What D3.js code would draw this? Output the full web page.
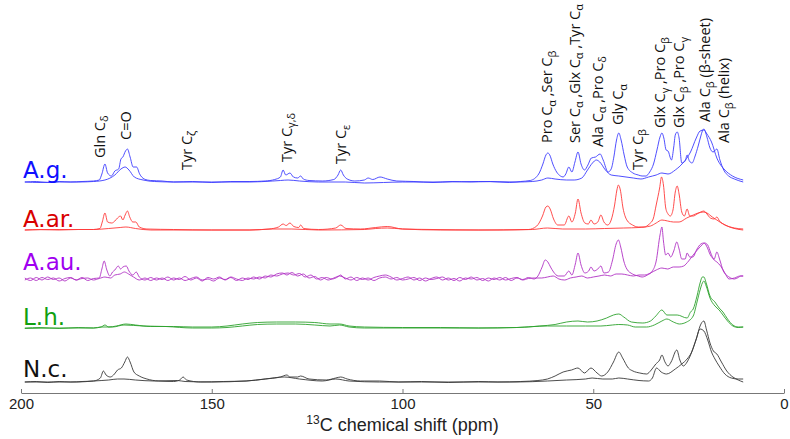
<!DOCTYPE html>
<html>
<head>
<meta charset="utf-8">
<script src="https://cdn.jsdelivr.net/npm/d3@7"></script>
<style>
  body { margin: 0; background: #fff; }
  svg { display: block; }
</style>
</head>
<body>
<svg id="chart" width="790" height="439"></svg>
<script>
// ---- data: [ppm, intensity] ----
var agA = [[199,0],[196,0.5],[193,-0.5],[190,0.5],[187,0],[184,0.5],[181,1],[179.5,2],[178.8,8],[178,18],[177.3,9],[176.3,6],[175.4,11],[174.4,13],[173.8,23],[173.3,25],[172.6,31],[172.1,33],[171.4,25],[170.6,15],[169.7,15],[168.9,8],[167.7,3],[166,1.5],[163,1],[160,0],[155,0.5],[150,-0.5],[145,0.5],[140,0.5],[136,1],[133.5,2.5],[132,5],[131.3,12],[130.6,7],[129.5,9],[128.6,5],[127.5,4],[126.7,6],[126,3],[124.5,1.5],[121,1],[118,2.5],[116.9,7],[116.2,12],[115.5,7],[114.5,3],[112.5,1],[110,2],[109,4],[107.8,2.5],[105.9,5],[104,3],[101.5,1],[97,0.5],[92,-0.5],[87,0.5],[82,0],[77,0.5],[72,-0.5],[69,0.5],[66.5,1.5],[64.3,8],[63.2,18],[62.4,27],[61.9,29],[61.4,27],[60.6,18],[59.6,10],[58.6,6],[57.9,5],[57.2,8],[56.4,15],[55.6,10],[54.8,20],[54,30],[53.2,18],[52.3,12],[51.4,17],[50.5,24],[49.4,25],[48.2,28],[47.4,22],[46.1,10],[45.3,13],[44.6,25],[43.9,42],[43.3,49],[42.7,42],[41.9,27],[41.1,15],[39.6,9],[38.2,7],[37.2,6],[36.2,6],[35.2,10],[34.2,18],[33.3,32],[32.5,45],[32,49],[31.5,44],[30.9,32],[30.4,31],[29.5,22],[28.9,35],[28.5,47],[28,50],[27.5,44],[26.8,19],[25.9,21],[25.4,27],[24.8,21],[24.1,19],[23.3,26],[22.5,36],[21.8,46],[21.4,51],[21,53],[20.2,45],[19.4,34],[18.6,30],[17.6,33],[16.8,22],[15.8,12],[14.5,6],[13,3],[10.7,0]];
var agB = [[199,0],[195,-0.5],[190,0],[185,0],[181,0.5],[178,2],[175.4,7],[173.8,13],[172.7,15],[171.7,12],[170.3,5],[168,2],[165,0.5],[160,0],[150,0],[140,0],[134,1],[132,1.5],[130,2],[127,1],[122,0],[115,0],[110,-1],[105,-0.5],[100,0],[90,0],[80,0.5],[70,0],[66,0.5],[63.5,2],[61.9,4],[60,3],[57,2],[55,2],[53,4],[51.5,12],[50.2,19],[49.2,22],[48.3,20],[46.8,12],[45.3,7],[43.3,6],[39.5,4],[37.5,3],[35.5,5],[33.5,7],[32,9],[30.4,8],[28.5,12],[26.5,19],[24.5,30],[23,44],[22,51],[21,52],[20.2,48],[19,40],[17.6,24],[15.5,12],[13.5,6],[10.7,2]];

var arA = [[199,0],[195,0.5],[190,0],[185,0.5],[181,0.5],[179.3,1.5],[178.7,8],[178,17],[177.3,8],[176.2,7],[175.4,9],[174.7,12],[173.9,14],[173.3,10],[172.7,15],[172.1,19],[171.5,13],[170.7,8],[169.9,8],[169,3],[167,1],[160,0.5],[150,0],[140,0],[135,1],[132.5,3],[131.3,6],[130.5,4.5],[129.5,7],[128.5,3.5],[127.2,2.5],[126.7,5],[125.9,1.5],[122,0.5],[117.5,2],[116.2,5],[114.8,1.5],[111,1],[107,2.5],[104,3.5],[100,1],[92,0.5],[80,0],[67,0.5],[64.8,4],[63.3,14],[62.4,23],[61.9,24],[61.3,21],[60.4,11],[59.3,5],[57.6,5],[56.4,14],[55.6,8],[54.7,17],[54,31],[53.2,17],[52.2,7],[51.3,6],[50.6,10],[49.8,6],[48.8,8],[48,15],[47.2,8],[46.2,5],[45.3,10],[44.4,25],[43.8,40],[43.4,45],[42.9,40],[42.2,22],[41.2,10],[39.7,5],[38.2,3],[36.7,3],[35.3,6],[34.3,11],[33.5,25],[32.6,42],[32.1,53],[31.6,45],[31,22],[30.4,16],[29.8,14],[29.1,20],[28.5,38],[28,44],[27.5,36],[26.8,18],[26.1,14],[25.4,21],[24.7,14],[23.8,14],[22.8,16],[21.8,18],[21,19],[20.2,16],[19.3,12],[18.3,11],[17.6,13],[16.9,9],[15.4,5],[13.5,2],[10.7,0]];
var arB = [[199,0],[190,0.5],[181,0.5],[177,1.5],[174,2.5],[172.5,3],[170,1.5],[166,0],[150,0],[140,0],[134,1],[129,1],[122,0],[110,0.5],[107,1.5],[104,2],[100,1],[90,0],[75,0],[66,0.5],[62,2],[58,1],[52,1],[47,1.5],[42,2],[38,2.5],[35,4],[33.5,7],[32,10],[30.5,9],[29,8],[27.5,8],[25.5,12],[23.8,15],[22.5,17],[21.2,18],[20.2,17],[18.8,13],[17.6,10],[15.5,5],[13,2],[10.7,1]];

var auA = [[199,1],[197.5,-1.5],[196,1.5],[194.5,-1],[193,2],[191.5,-0.5],[190,1],[188.5,-2],[187,1],[185.5,-1],[184,1.5],[182.5,-1.5],[181,0.5],[179.5,1],[178.8,10],[178.2,18],[177.5,9],[176.7,3],[176,7],[175.4,9],[174.5,13],[173.9,10],[173.3,12],[172.4,13],[171.7,8],[170.7,4],[169.8,7],[169,2],[167.5,-1],[166,1.5],[164.5,-1],[163,1],[161.5,-1.5],[160,1],[158.5,-0.5],[157,2.5],[155.5,-1],[154,1],[152.5,-2],[151,1.5],[149.5,0],[148,2],[146.5,-1],[145,1.5],[143.5,-1.5],[142,1],[140.5,-0.5],[139,2],[137.5,0],[136,3],[134.5,2],[133,5],[131.5,6],[130.3,4],[129,6.5],[127.5,3],[126,5],[124.5,1],[123,2.5],[121.5,-1],[120,1.5],[118.5,0],[117,2],[116.2,4],[115,0],[113.5,2],[112,-1.5],[110.5,1],[109,-1],[107.5,1.5],[106,3],[104.5,4],[103,2],[101.5,-1],[100,0.5],[98.5,2],[97,-1],[95.5,1],[94,-2],[92.5,0.5],[91,2],[89.5,-1],[88,1],[86.5,-1.5],[85,1.5],[83.5,-0.5],[82,2],[80.5,-1],[79,0.5],[77.5,-2],[76,1],[74.5,-1],[73,1.5],[71.5,-1.5],[70,1],[68.5,-0.5],[67,1.5],[65.5,0],[64.5,3],[63.4,12],[62.6,19],[61.9,17],[61.2,12],[60.4,7],[59.2,3],[57.6,3],[56.4,8],[55.6,4],[54.7,15],[54,26],[53.2,14],[52.2,6],[51.2,8],[50.6,12],[49.8,8],[48.8,10],[48,13],[47.2,6],[46,7],[45,18],[44,35],[43.4,39],[42.8,32],[42,18],[41.2,10],[39.7,5],[38.2,3],[37.2,2],[35.8,4],[34.5,8],[33.5,18],[32.5,44],[32,52],[31.6,38],[31,24],[30.4,26],[29.7,22],[28.9,28],[28.1,37],[27.5,30],[26.8,20],[25.9,20],[25.4,26],[24.7,22],[23.9,22],[22.8,30],[21.8,35],[21,36],[20.3,33],[19.3,24],[18.3,20],[17.6,27],[16.9,20],[15.9,8],[14.4,2],[13,0],[12,1.5],[11.3,3],[10.7,3]];
var auB = [[199,-1],[197.5,1],[196,-1.5],[194.5,1.5],[193,-0.5],[191.5,1],[190,-2],[188.5,0.5],[187,1.5],[185.5,-1],[184,0.5],[182.5,1],[181,-1],[179.5,0.5],[178,2],[176.5,1],[175.4,4],[174,5],[172.9,7],[171.8,5],[170.5,2],[169,-1],[167.5,1],[166,-1.5],[164.5,1],[163,-0.5],[161.5,2],[160,-1],[158.5,1],[157,-1.5],[155.5,0.5],[154,2],[152.5,-1],[151,0],[149.5,-2],[148,1],[146.5,-0.5],[145,2],[143.5,0],[142,-1.5],[140.5,1],[139,0],[137.5,2],[136,1],[134.5,4],[133,3],[131.5,5],[130,6],[128.5,4],[127,5.5],[125.5,2],[124,4],[122.5,0],[121,1.5],[119.5,-1],[118,1],[116.5,3],[115,1],[113.5,-1],[112,1.5],[110.5,-0.5],[109,1],[107.5,-1.5],[106,1],[104.5,2],[103,0],[101.5,1.5],[100,-1],[98.5,0],[97,1.5],[95.5,-1.5],[94,1],[92.5,-0.5],[91,0.5],[89.5,2],[88,-1],[86.5,0.5],[85,-2],[83.5,1],[82,0],[80.5,1.5],[79,-1.5],[77.5,1],[76,-0.5],[74.5,1.5],[73,-1],[71.5,0.5],[70,1.5],[68.5,-1],[67,0.5],[65.5,1],[63.5,1],[62,2],[60.5,3],[59,0],[57.5,-1],[56,1],[54.5,2],[53,3],[51.5,1],[50,2],[48.5,3],[47,4],[45.5,3],[44,5],[42.5,5],[41,4],[39.5,3],[38,4],[36.5,4],[35,6],[33.5,9],[32,11],[30.5,10],[29,12],[27.5,12],[26.3,13],[25,18],[23.8,24],[22.5,30],[21.5,34],[20.8,36],[20,34],[19.2,26],[18.5,20],[17.6,17],[16.6,13],[15.5,6],[14.4,0],[13,1],[11.5,3],[10.7,3]];

var lhA = [[199,0],[195,0.5],[190,-0.5],[185,0.5],[181,0],[179,1],[178,3],[177,1],[175,2],[172.5,4],[170,3],[166,1.5],[160,1.5],[155,1],[150,1],[146,2],[142,4],[138,5.5],[133,6],[128,6],[123,5.5],[119,4],[116.5,4],[114,2],[110,1],[100,0.5],[90,0.5],[80,0],[70,0.5],[64,2],[60,3.5],[57,6],[54,7],[51.5,6],[49,7],[46.5,10],[44.7,13],[43.3,14],[42,11],[40,6],[37,5],[35,7],[33.6,12],[32,18],[30.7,13],[28,13],[25.4,10],[24.5,16],[23.8,19],[22.8,32],[22,45],[21.4,51],[21,51],[20.4,45],[19.4,32],[18.1,26],[17,20],[16,16],[14.8,9],[13.4,3],[12,1],[10.7,1]];
var lhB = [[199,-0.5],[190,0],[181,0],[179,1],[176,1],[173,3],[168,2],[162,1.5],[155,0],[150,0],[146,0.5],[142,2],[138,3.5],[133,4],[128,4],[123,3],[119,2],[116.5,3],[114,1],[110,0],[100,0],[80,0],[70,0.5],[62,2],[57,2],[52,2],[48,2],[45,3],[43.3,3.5],[41,3],[39,1],[36,1],[34,3],[32,7],[30.7,9],[29,6],[27.4,4],[25.5,6],[23.8,12],[22.8,26],[22,38],[21.4,45],[21,47],[20.4,42],[19.4,30],[18.1,22],[17,18],[16,13],[14.8,7],[13.4,2],[12,0.5],[10.7,1]];

var ncA = [[199,0],[196,0.5],[193,-0.5],[190,0.5],[187,0],[184,0.5],[181,1],[179.2,4],[178.4,11],[177.7,7],[176.6,5],[175.5,8],[174.7,12],[173.7,14],[172.8,20],[172.1,25],[171.4,20],[170.4,10],[169,6],[167,3],[164,1],[160,0.5],[158.4,2],[157.5,5],[156.6,2],[153,0],[147,0.5],[141,1],[136,3],[132,5],[130.3,7],[129.5,5],[127.5,5],[126.7,6],[124.5,3],[120,2],[117.5,4],[116.2,5],[114.5,3],[111,1],[106,1],[101,0],[95,0.5],[88,-0.5],[80,0.5],[75,0],[69,0.5],[64.5,1.5],[62,3],[60,6],[57.9,10],[55.7,12],[54,14],[52.3,9],[50.6,14],[49,9],[47.8,6],[46.2,10],[44.7,20],[43.3,30],[42.3,24],[40.8,14],[39.6,11],[37.8,9],[36,8],[34.8,12],[33.6,18],[32.6,22],[32,27],[31.2,20],[30.4,16],[29.6,20],[28.1,32],[27.3,22],[26.4,16],[25.4,20],[24.6,26],[23.7,35],[22.9,44],[22,56],[21,61],[20.3,52],[19.4,39],[18.5,31],[17.6,28],[16.4,20],[15,11],[13.4,5],[12,2],[10.7,0]];
var ncB = [[199,0],[192,0],[185,0],[181,1],[177,2],[174.7,3],[173,3],[170,2],[165,1],[159,1.5],[157,0.5],[150,0],[141,1],[136,3],[131,5],[127,3],[121,1],[117.5,3],[114,1],[106,0],[95,0],[80,0],[70,0],[62,1],[57,2],[52,3],[50.3,4],[47.5,3],[45,3],[43.3,4],[41,3],[38,1.5],[35.5,1],[34.5,4],[33.4,14],[32.2,10],[30.8,8],[28.5,13],[26.8,18],[25.4,23],[24.2,30],[23.1,42],[22,53],[21,51],[20,42],[19,30],[18.1,23],[17,16],[15.5,8],[13.8,4],[12,3],[10.7,3]];

var samples = ["A.g.", "A.ar.", "A.au.", "L.h.", "N.c."];
var spectra = [[agA, agB], [arA, arB], [auA, auB], [lhA, lhB], [ncA, ncB]];
var offsets = [200, 152, 103, 54, 0];
var nameLevels = [204, 155, 112, 57, 5];

var peakLabels = ["Gln C_{δ}", "C=O", "Tyr C_{ζ}", "Tyr C_{γ,δ}", "Tyr C_{ε}",
    "Pro C_{α} ,Ser C_{β}", "Ser C_{α} ,Glx C_{α} ,Tyr C_{α}", "Ala C_{α} ,Pro C_{δ}",
    "Gly C_{α}", "Tyr C_{β}", "Glx C_{γ} ,Pro C_{β}", "Glx C_{β} ,Pro C_{γ}",
    "Ala C_{β} (β-sheet)", "Ala C_{β} (helix)"];
var peakPpm = [179.3, 172.5, 156.5, 130.3, 116.1, 62.1, 54.8, 48.8, 43.5, 38.3, 32.5, 27.5, 20.7, 15.7];
var peakLevels = [224, 242, 212, 220, 218, 239, 239, 235, 257, 212, 254, 254, 260, 239];

var xTicks = [200, 150, 100, 50, 0];

// ---- styles ----
var lineColors = ["#3c3cff", "#ff3a3a", "#b032c4", "#2ea22e", "#3a3a3a"];
var nameColors = ["#1010ff", "#d80000", "#a000f0", "#10a010", "#111111"];

var svg = d3.select("#chart");

var x = d3.scaleLinear().domain([200, 0]).range([21, 784]);
var y = d3.scaleLinear().domain([0, 380]).range([382, 2]);

// spectra
spectra.forEach(function(pair, i) {
    var line = d3.line()
        .x(d => x(d[0]))
        .y(d => y(d[1] + offsets[i]))
        .curve(d3.curveMonotoneX);

    svg.append("g")
        .selectAll("path")
        .data(pair)
        .join("path")
        .attr("d", line)
        .attr("fill", "none")
        .attr("stroke", lineColors[i])
        .attr("stroke-width", 1)
        .attr("stroke-opacity", 0.9);

    svg.append("text")
        .attr("x", 23)
        .attr("y", y(nameLevels[i]))
        .style("font", "23px 'DejaVu Sans'")
        .attr("fill", nameColors[i])
        .text(samples[i]);
});

// peak annotations, rotated, with subscripts
var ann = svg.append("g")
    .style("font-family", "'Open Sans'")
    .style("font-size", "14.5px")
    .attr("fill", "#111");

peakLabels.forEach(function(str, i) {
    var t = ann.append("text")
        .attr("transform", `translate(${x(peakPpm[i]) + 5},${y(peakLevels[i])}) rotate(-90)`);
    var parts = str.split(/(_\{[^}]*\})/).filter(s => s.length);
    var shifted = false;
    parts.forEach(function(p) {
        if (p.startsWith("_{")) {
            t.append("tspan")
                .attr("dy", 3.5)
                .style("font-size", "11px")
                .text(p.slice(2, -1));
            shifted = true;
        } else {
            t.append("tspan")
                .attr("dy", shifted ? -3.5 : 0)
                .text(p);
            shifted = false;
        }
    });
});

// x axis
var axis = svg.append("g")
    .attr("transform", "translate(0,393)")
    .call(d3.axisBottom(x)
        .tickValues(xTicks)
        .tickFormat(d3.format("d"))
        .tickSizeInner(-4)
        .tickSizeOuter(0)
        .tickPadding(5));

axis.select(".domain").attr("stroke", "#777");
axis.selectAll(".tick line").attr("stroke", "#777");
axis.selectAll(".tick text")
    .style("font", "15px 'Liberation Sans'")
    .attr("fill", "#222");

var title = svg.append("text")
    .attr("x", x(100))
    .attr("y", 431)
    .attr("text-anchor", "middle")
    .style("font", "18px 'Liberation Sans'")
    .attr("fill", "#222");
title.append("tspan").attr("dy", -7).style("font-size", "12px").text("13");
title.append("tspan").attr("dy", 7).text("C chemical shift (ppm)");
</script>
</body>
</html>
